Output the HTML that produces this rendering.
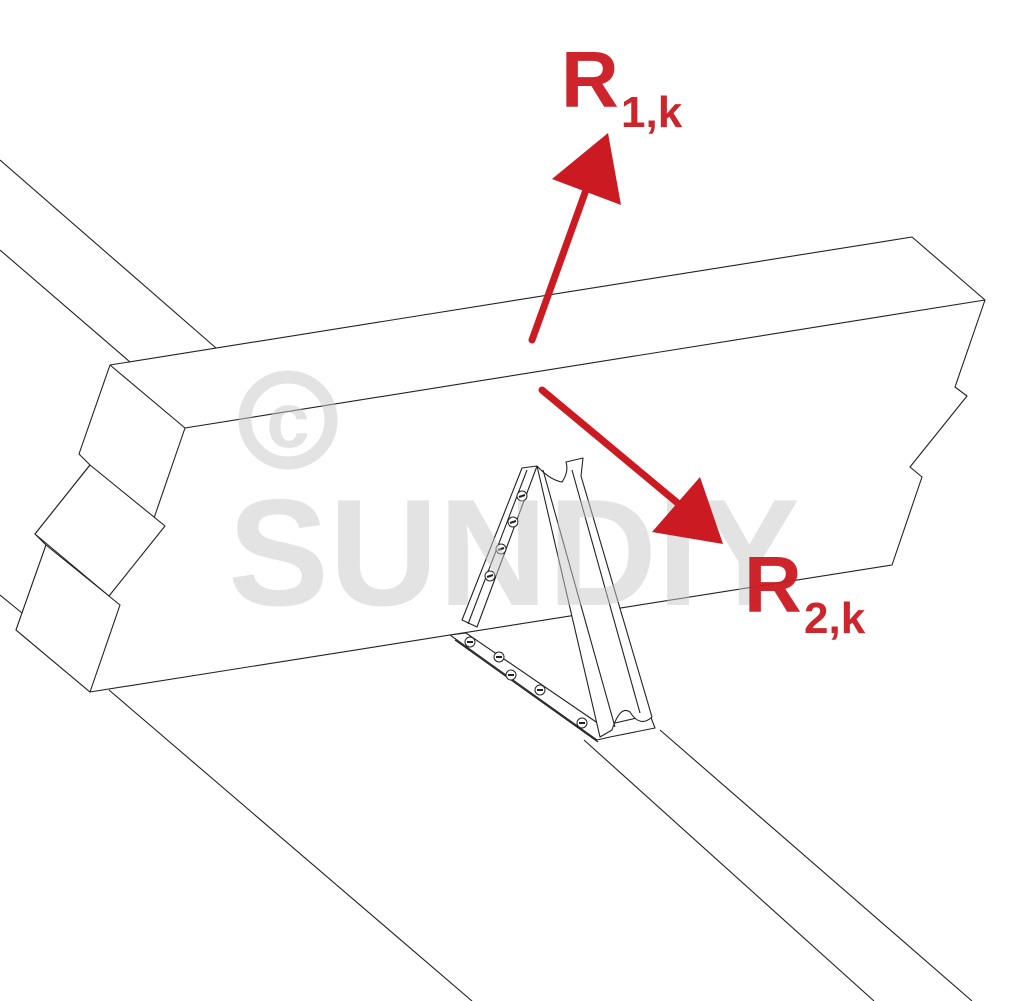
<!DOCTYPE html>
<html><head><meta charset="utf-8"><style>
html,body{margin:0;padding:0;background:#fff;}
svg{display:block;}
</style></head><body>
<svg width="1024" height="1001" viewBox="0 0 1024 1001" xmlns="http://www.w3.org/2000/svg">
<g fill="none" stroke="#222" stroke-width="1.1" stroke-linejoin="round">
<line x1="0" y1="160" x2="216" y2="348"/>
<line x1="0" y1="250" x2="130" y2="362"/>
<line x1="0" y1="595" x2="22" y2="613"/>
<line x1="109" y1="690" x2="472" y2="1001"/>
<line x1="584" y1="740" x2="874" y2="1001"/>
<line x1="660" y1="730" x2="972" y2="1001"/>
<polygon fill="#fff" points="110,365 912,237 985,300 955,387 967,396 910,467 922,477 892,565 90,692 16,630 46,545 35,534 90,465 79,454"/>
<polyline points="110,365 185,428 985,300"/>
<polyline points="185,428 153,521"/>
<polygon fill="#fff" points="90,465 165,526 109,596 35,534"/>
<polygon fill="#fff" points="46,545 120,605 90,692 16,630"/>
<polygon fill="#fff" points="450,635 466,633 602,726 650,715 655,728 610,737 597,740"/>
<line x1="455" y1="640" x2="598" y2="742"/>
<path fill="#fff" d="M537,466 Q550,480 562,482 Q569,472 566,462 L583,458 L581,476 L652,717 Q640,728 630,712 Q620,705 612,730 L600,737 L537,466 Z"/>
<line x1="543" y1="470" x2="615" y2="727"/>
<line x1="572" y1="470" x2="640" y2="713"/>
<polygon fill="#fff" points="522,468 537,466 477,627 462,620"/>
<line x1="527" y1="470" x2="468" y2="624"/>
<g fill="#fff" stroke-width="1">
<circle cx="522" cy="496" r="5"/><circle cx="513" cy="522" r="5"/><circle cx="501" cy="549" r="5"/><circle cx="490" cy="576" r="5"/>
<circle cx="470" cy="642" r="5"/><circle cx="499" cy="657" r="5"/><circle cx="511" cy="675" r="5"/><circle cx="540" cy="690" r="5"/><circle cx="582" cy="723" r="5"/>
</g>
<g stroke-width="2">
<line x1="519" y1="497" x2="525" y2="495"/><line x1="510" y1="523" x2="516" y2="521"/><line x1="498" y1="550" x2="504" y2="548"/><line x1="487" y1="577" x2="493" y2="575"/>
<line x1="467" y1="642" x2="473" y2="642"/><line x1="496" y1="657" x2="502" y2="657"/><line x1="508" y1="675" x2="514" y2="675"/><line x1="537" y1="690" x2="543" y2="690"/><line x1="579" y1="723" x2="585" y2="723"/>
</g>
</g>
<g fill="#c8c8c8" opacity="0.5">
<circle cx="288" cy="420" r="43" fill="none" stroke="#c8c8c8" stroke-width="13"/>
<text x="288" y="447" font-family="Liberation Sans, sans-serif" font-weight="bold" font-size="78" text-anchor="middle">c</text>
<text x="228" y="605" font-family="Liberation Sans, sans-serif" font-weight="bold" font-size="152" textLength="572" lengthAdjust="spacingAndGlyphs">SUNDIY</text>
</g>
<g fill="#cc1a22" stroke="#cc1a22">
<line x1="532" y1="340" x2="586" y2="190" stroke-width="7" stroke-linecap="round"/>
<polygon stroke="none" points="608,133 552,179 621,205"/>
<line x1="542" y1="390" x2="680" y2="505" stroke-width="7" stroke-linecap="round"/>
<polygon stroke="none" points="723,544 652,532 700,477"/>
</g>
<g fill="#cc1a22" font-family="Liberation Sans, sans-serif" font-weight="bold" opacity="0.95">
<text x="561" y="107" font-size="80">R</text>
<text x="621" y="127" font-size="44">1,k</text>
<text x="744" y="612" font-size="80">R</text>
<text x="804" y="633" font-size="44">2,k</text>
</g>
</svg>
</body></html>
